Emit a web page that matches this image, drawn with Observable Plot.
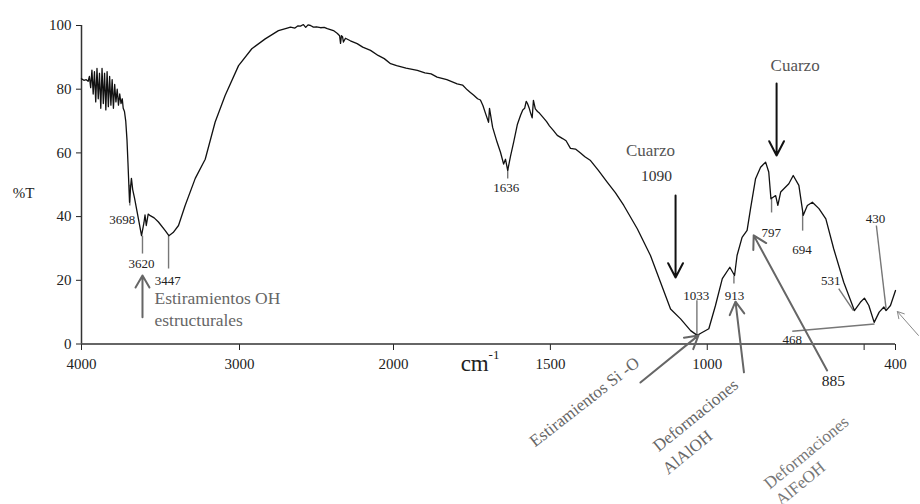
<!DOCTYPE html>
<html>
<head>
<meta charset="utf-8">
<script src="https://cdn.jsdelivr.net/npm/d3@7"></script>
<script src="https://cdn.jsdelivr.net/npm/@observablehq/plot@0.6"></script>
<style>
  html, body { margin: 0; padding: 0; background: #fff; }
  #chart { width: 920px; height: 504px; }
</style>
</head>
<body>
<div id="chart"></div>
<script>
// FTIR spectrum: wavenumber (cm-1) and transmittance (%T)
const wavenumber = [4000,3985,3970,3958,3950,3942,3934,3926,3918,3910,3902,3894,3886,3878,3870,3862,3854,3846,3838,3830,3822,3814,3806,3798,3790,3782,3774,3766,3758,3750,3742,3736,3728,3720,3712,3706,3696,3688,3684,3676,3664,3640,3620,3605,3598,3590,3578,3565,3540,3513,3470,3447,3420,3386,3344,3280,3217,3154,3091,3006,2920,2833,2747,2690,2669,2640,2620,2604,2585,2570,2555,2539,2520,2500,2474,2450,2430,2390,2364,2350,2344,2338,2331,2325,2312,2280,2236,2200,2149,2100,2060,2019,1990,1960,1924,1900,1880,1861,1830,1797,1780,1765,1755,1745,1732,1723,1715,1707,1697,1694,1684,1670,1659,1649,1643,1636,1627,1617,1605,1595,1588,1582,1577,1573,1568,1563,1558,1554,1548,1541,1535,1522,1512,1503,1490,1478,1461,1450,1436,1420,1404,1390,1372,1347,1319,1293,1266,1223,1181,1149,1117,1085,1053,1032,1022,995,974,952,928,913,905,889,873,862,846,830,814,804,797,782,775,766,740,726,708,694,681,665,644,622,597,565,531,512,499,485,468,452,437,430,416,400];
const transmittance = [83.3,82.8,83.0,82.5,84.0,80.5,86.0,78.5,85.5,76.0,86.5,77.0,85.0,74.0,86.5,75.5,85.0,73.5,85.5,74.5,84.0,75.0,83.0,74.0,81.5,76.0,80.0,75.0,78.5,75.5,77.0,74.0,73.0,70.0,64.0,57.0,44.5,50.0,52.0,48.5,45.7,39.4,34.0,38.0,40.5,37.2,40.8,40.3,39.6,38.3,35.6,34.0,35.0,37.2,43.5,52.0,58.0,69.7,78.0,87.4,92.7,95.8,98.4,99.2,99.5,99.2,99.9,99.8,100.3,99.4,100.2,100.0,99.5,99.6,99.3,99.4,99.0,98.4,97.5,96.8,94.4,96.8,96.5,94.8,96.0,95.2,94.3,93.2,92.2,90.6,89.6,88.0,87.4,86.6,85.9,85.1,84.8,83.8,83.0,81.7,81.3,79.8,79.0,78.2,77.0,76.6,74.9,72.5,69.6,74.0,68.0,63.4,60.2,56.5,58.0,54.5,59.0,63.4,69.0,71.8,73.5,74.0,76.2,75.5,74.2,72.5,71.0,76.5,73.8,73.0,72.5,71.0,69.8,68.5,67.0,65.5,64.5,63.8,61.4,61.2,60.0,58.8,57.6,54.5,50.8,47.5,43.5,36.2,27.8,19.4,11.0,7.9,4.2,2.7,3.3,4.8,12.0,20.5,24.1,21.5,27.8,33.5,35.7,42.5,51.9,55.5,57.1,54.0,45.6,46.6,43.5,47.7,50.3,52.9,49.8,40.4,43.5,44.5,42.5,39.3,29.9,19.4,10.5,13.1,14.4,12.1,6.8,10.0,11.6,10.5,12.1,16.8];

// axes
const xTicks = [4000, 3000, 2000, 1500, 1000, 500, 400];
const xTickLabels = ["4000", "3000", "2000", "1500", "1000", "", "400"];
const yTicks = [0, 20, 40, 60, 80, 100];

// peak labels: [text, wavenumber, %T]
const peakLabels = [
  ["3698", 3742, 39.1], ["3620", 3620, 25.2], ["3447", 3454, 19.9],
  ["1636", 1641, 48.9], ["1033", 1035, 15.2], ["913", 913, 15.2],
  ["797", 796, 34.9], ["694", 698, 29.7], ["531", 606, 19.9],
  ["430", 464, 39.3], ["468", 729, 1.3]
];
// leader lines: [w1, t1, w2, t2]
const leaderLines = [
  [3694, 50, 3694, 43.5], [3614, 34, 3614, 28.4], [3449, 34, 3449, 23.7],
  [1636, 55, 1636, 52], [1033, 13.7, 1033, 2.7], [915, 21.5, 915, 19],
  [795, 45.7, 795, 41.3], [696, 41.3, 696, 35.6], [581, 17.4, 534, 10.5],
  [461, 37.2, 430, 11.1], [729, 4.0, 467, 6.3]
];
// black quartz arrows: [w1, t1, w2, t2]
const quartzArrows = [[1101, 46.6, 1101, 20.9], [779, 81.8, 779, 59.2]];
// grey annotation arrows: [w1, t1, w2, t2]
const greyArrows = [
  [3614, 8.4, 3614, 21.5], [1213, -12.1, 1028, 2.7],
  [883, -8.9, 910, 13.3], [618, -8.3, 852, 34.1]
];
const thinArrows = [[327, 2.7, 394, 10.2]];
// annotation texts: [text, wavenumber, %T, rotate, anchor, size, colour]
const annotations = [
  ["Estiramientos OH", 3538, 14.3, 0, "start", 17.5, "#666"],
  ["estructurales", 3538, 7.4, 0, "start", 17.5, "#666"],
  ["Cuarzo", 1181, 60.8, 0, "middle", 17, "#555"],
  ["1090", 1162, 52.6, 0, "middle", 15.5, "#333"],
  ["Cuarzo", 720, 87.4, 0, "middle", 17, "#555"],
  ["885", 598, -11.5, 0, "middle", 15.5, "#222"],
  ["Estiramientos Si -O", 1391, -18.2, -38, "middle", 17, "#666"],
  ["Deformaciones", 1037, -22.4, -39, "middle", 17, "#666"],
  ["AlAlOH", 1063, -34, -39, "middle", 17, "#666"],
  ["Deformaciones", 684, -34.1, -39.5, "middle", 17, "#777"],
  ["AlFeOH", 703, -43.8, -39.5, "middle", 17, "#777"]
];
const yLabel = ["%T", 4367, 47.3];
const xLabel = ["cm", 1786, -6.1];
const xLabelSup = ["-1", 1697, -3.4];

const spectrum = wavenumber.map((w, i) => ({w, t: transmittance[i]}));
const toSeg = a => a.map(([w1, t1, w2, t2]) => ({w1, t1, w2, t2}));
const peaks = peakLabels.map(([text, w, t]) => ({text, w, t}));
const notes = annotations.map(([text, w, t, rotate, anchor, size, color]) => ({text, w, t, rotate, anchor, size, color}));
const tickLabel = new Map(xTicks.map((d, i) => [d, xTickLabels[i]]));

const serif = "Liberation Serif";

const chart = Plot.plot({
  width: 920,
  height: 504,
  marginLeft: 81,
  marginRight: 25,
  marginTop: 25,
  marginBottom: 160,
  style: {fontFamily: serif, fontSize: "15px", color: "#222", background: "#fff", overflow: "visible"},
  x: {type: "linear", domain: [4000, 3000, 2000, 400], range: [81, 239, 393, 895],
      ticks: xTicks, tickFormat: d => tickLabel.get(d), tickSize: 6, tickPadding: 8, label: null},
  y: {domain: [0, 100], range: [343.5, 25], ticks: yTicks, tickSize: 5, tickPadding: 5, label: null},
  marks: [
    Plot.ruleY([0], {x1: 4000, x2: 400, stroke: "#333", strokeWidth: 1.5}),
    Plot.ruleX([4000], {y1: 0, y2: 100, stroke: "#333", strokeWidth: 1.5}),
    Plot.link(toSeg(leaderLines), {x1: "w1", y1: "t1", x2: "w2", y2: "t2", stroke: "#777", strokeWidth: 1.4}),
    Plot.line(spectrum, {x: "w", y: "t", stroke: "#111", strokeWidth: 1.3, curve: "linear"}),
    Plot.arrow(toSeg(quartzArrows), {x1: "w1", y1: "t1", x2: "w2", y2: "t2", stroke: "#111", strokeWidth: 2, headLength: 12, headAngle: 55}),
    Plot.arrow(toSeg(greyArrows), {x1: "w1", y1: "t1", x2: "w2", y2: "t2", stroke: "#666", strokeWidth: 2, headLength: 11, headAngle: 60}),
    Plot.arrow(toSeg(thinArrows), {x1: "w1", y1: "t1", x2: "w2", y2: "t2", stroke: "#888", strokeWidth: 1, headLength: 11, headAngle: 60}),
    Plot.text(peaks, {x: "w", y: "t", text: "text", fontSize: 13, fill: "#222", fontFamily: serif}),
    ...notes.map(n => Plot.text([n], {x: "w", y: "t", text: "text", rotate: n.rotate, textAnchor: n.anchor, fontSize: n.size, fill: n.color, fontFamily: serif})),
    Plot.text([yLabel], {x: d => d[1], y: d => d[2], text: d => d[0], fontSize: 15, fill: "#222", fontFamily: serif}),
    Plot.text([xLabel], {x: d => d[1], y: d => d[2], text: d => d[0], fontSize: 23, textAnchor: "start", fill: "#222", fontFamily: serif}),
    Plot.text([xLabelSup], {x: d => d[1], y: d => d[2], text: d => d[0], fontSize: 13, textAnchor: "start", fill: "#222", fontFamily: serif})
  ]
});
document.getElementById("chart").appendChild(chart);
</script>
</body>
</html>
